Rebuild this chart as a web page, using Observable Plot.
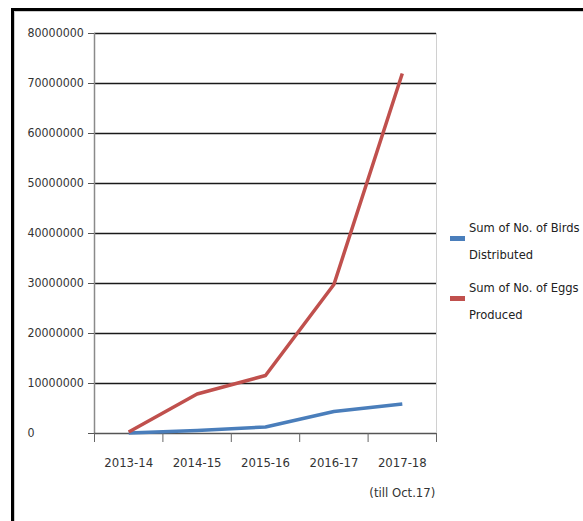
<!DOCTYPE html>
<html>
<head>
<meta charset="utf-8">
<script src="https://cdn.jsdelivr.net/npm/d3@7"></script>
<script src="https://cdn.jsdelivr.net/npm/@observablehq/plot@0.6"></script>
<style>
  html, body { margin: 0; padding: 0; background: #fff; }
  #wrap { position: relative; width: 583px; height: 521px; overflow: hidden; font-family: "DejaVu Sans Condensed", "Liberation Sans Narrow", sans-serif; font-stretch: condensed; }
  #frame { position: absolute; left: 11px; top: 8px; right: -10px; bottom: -10px; border-top: 3px solid #000; border-left: 3px solid #000; pointer-events: none; }
  #frame2 { position: absolute; left: 14px; top: 11px; right: -10px; bottom: -10px; border-top: 1px solid #ccc; border-left: 1px solid #ccc; pointer-events: none; }
  #legend { position: absolute; left: 450px; top: 214px; font-size: 12.8px; color: #222; white-space: nowrap; }
  .item { position: relative; padding-left: 19px; line-height: 27px; margin-bottom: 6px; }
  .sw { position: absolute; left: 0; width: 15px; height: 5px; top: 22px; }
</style>
</head>
<body>
<div id="wrap">
  <div id="chart"></div>
  <div id="frame"></div>
  <div id="frame2"></div>
  <div id="legend"></div>
</div>
<script>
const categories = ["2013-14", "2014-15", "2015-16", "2016-17", "2017-18\n(till Oct.17)"];
const birdsDistributed = [100000, 600000, 1300000, 4400000, 5900000];
const eggsProduced = [300000, 7900000, 11600000, 29800000, 72000000];
const seriesNames = ["Sum of No. of Birds Distributed", "Sum of No. of Eggs Produced"];
const seriesColors = ["#4A7EBB", "#C0504D"];
const yTicks = [0, 10000000, 20000000, 30000000, 40000000, 50000000, 60000000, 70000000, 80000000];

const idx = categories.map((_, i) => i);
const bounds = [-0.5, ...idx.map(i => i + 0.5)];
const data = [
  ...birdsDistributed.map((v, i) => ({i, v, s: seriesNames[0]})),
  ...eggsProduced.map((v, i) => ({i, v, s: seriesNames[1]}))
];

const chart = Plot.plot({
  width: 583,
  height: 521,
  marginLeft: 94,
  marginRight: 147,
  marginTop: 33,
  marginBottom: 88,
  style: {fontFamily: '"DejaVu Sans Condensed", "Liberation Sans Narrow", sans-serif', fontStretch: "condensed", fontSize: "13px", color: "#333", background: "transparent"},
  x: {type: "linear", domain: [-0.5, 4.5]},
  y: {domain: [0, 80000000]},
  color: {domain: seriesNames, range: seriesColors},
  marks: [
    Plot.gridY(yTicks.filter(d => d > 0), {stroke: "#1a1a1a", strokeOpacity: 1, strokeWidth: 1.6}),
    Plot.ruleX([4.5], {stroke: "#d0d0d0", strokeWidth: 1}),
    Plot.ruleX([-0.5], {stroke: "#8a8a8a", strokeWidth: 1.5}),
    Plot.ruleY([0], {stroke: "#555", strokeWidth: 1.6}),
    Plot.axisY({ticks: yTicks, tickFormat: () => "", tickSize: 6, stroke: "#555", label: null}),
    Plot.axisY({ticks: yTicks, tickFormat: d => String(d), tickSize: 0, tickPadding: 67, textAnchor: "start", fontSize: 12.3, fill: "#333", label: null}),
    Plot.axisX({ticks: bounds, tickFormat: () => "", tickSize: 9, stroke: "#666", label: null}),
    Plot.axisX({ticks: idx, tickFormat: i => categories[i], tickSize: 0, tickPadding: 12, lineHeight: 2.3, fill: "#333", label: null}),
    Plot.line(data, {x: "i", y: "v", z: "s", stroke: "s", strokeWidth: 3.5, strokeLinejoin: "round", strokeLinecap: "butt"})
  ]
});
document.getElementById("chart").appendChild(chart);

const legend = document.getElementById("legend");
const legendLines = [["Sum of No. of Birds", "Distributed"], ["Sum of No. of Eggs", "Produced"]];
legendLines.forEach((lines, k) => {
  const it = document.createElement("div");
  it.className = "item";
  const sw = document.createElement("div");
  sw.className = "sw";
  sw.style.background = seriesColors[k];
  it.appendChild(sw);
  lines.forEach(t => { const d = document.createElement("div"); d.textContent = t; it.appendChild(d); });
  legend.appendChild(it);
});
</script>
</body>
</html>
